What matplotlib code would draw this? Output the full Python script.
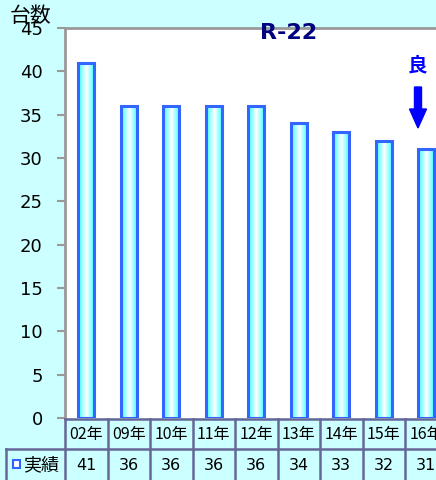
import matplotlib
matplotlib.use("Agg")
import matplotlib.pyplot as plt
import numpy as np
from matplotlib.colors import LinearSegmentedColormap
from matplotlib.patches import Rectangle, FancyArrow

plt.rcParams['font.family'] = ['Noto Sans CJK JP', 'DejaVu Sans']

categories = ["02年", "09年", "10年", "11年", "12年", "13年", "14年", "15年", "16年"]
values = [41, 36, 36, 36, 36, 34, 33, 32, 31]
series_name = "実績"
yticks = [0, 5, 10, 15, 20, 25, 30, 35, 40, 45]
title = "R-22"
ylabel = "台数"
note = "良"

W, H = 436, 480
bg = "#CCFFFF"
fig = plt.figure(figsize=(W / 100, H / 100), dpi=100, facecolor=bg)

x0, x1 = 65, 447.5
ytop, ybot = 28, 418
ax = fig.add_axes([x0 / W, (H - ybot) / H, (x1 - x0) / W, (ybot - ytop) / H])
ax.set_facecolor("white")
n = len(categories)

cmap = LinearSegmentedColormap.from_list("cw", ["#33FFFF", "#FFFFFF", "#33FFFF"])
grad = np.linspace(0, 1, 64).reshape(1, -1)
bw = 0.38
bars = ax.bar(range(n), values, width=bw, facecolor="none", edgecolor="#3366FF",
              linewidth=2.2, zorder=3)
for b in bars:
    ax.imshow(grad, cmap=cmap, aspect="auto", zorder=2,
              extent=[b.get_x(), b.get_x() + b.get_width(), 0, b.get_height()])
ax.set_xlim(-0.5, n - 0.5)
ax.set_ylim(0, 45)

for s in ["right", "bottom"]:
    ax.spines[s].set_visible(False)
for s in ["left", "top"]:
    ax.spines[s].set_color("#999999")
    ax.spines[s].set_linewidth(2)
ax.set_xticks([])
ax.set_yticks(yticks)
ax.tick_params(axis="y", colors="#999999", length=6, width=1.5, pad=10, labelsize=13,
               labelcolor="black")
for lab in ax.get_yticklabels():
    lab.set_fontfamily("DejaVu Sans")

# title and labels
fig.text(289 / W, 1 - 33 / H, title, color="#000080", fontsize=16, fontweight="bold",
         ha="center", va="center", fontfamily="DejaVu Sans")
fig.text(10 / W, 1 - 16 / H, ylabel, fontsize=15, ha="left", va="center")
fig.text(417 / W, 1 - 66 / H, note, color="#0000FF", fontsize=14, fontweight="bold",
         ha="center", va="center")
fig.patches.append(FancyArrow(
    418 / W, 1 - 87 / H, 0, -41 / H, width=7 / W, head_width=17 / W,
    head_length=19 / H, length_includes_head=True, color="#0000FF",
    transform=fig.transFigure, figure=fig))

# table
lc = "#666699"
cw = (x1 - x0) / n
r1t, r1b, r2b = 419, 449, 482
def fx(x): return x / W
def fy(y): return 1 - y / H
lines = []
lines.append(((x0, r1t), (x1, r1t)))
lines.append(((6, r1b), (x1, r1b)))
lines.append(((6, r1b), (6, r2b)))
for k in range(n + 1):
    xx = x0 + k * cw
    lines.append(((xx, r1t), (xx, r2b)))
for (a, b) in lines:
    fig.add_artist(plt.Line2D([fx(a[0]), fx(b[0])], [fy(a[1]), fy(b[1])], color=lc,
                              linewidth=1.8, transform=fig.transFigure))
for k, (c, v) in enumerate(zip(categories, values)):
    xc = x0 + (k + 0.5) * cw
    fig.text(fx(xc), fy((r1t + r1b) / 2 + 1), c, fontsize=11.5, ha="center", va="center")
    fig.text(fx(xc), fy((r1b + r2b) / 2), str(v), fontsize=11.5, ha="center", va="center",
             fontfamily="DejaVu Sans")
fig.add_artist(Rectangle((fx(13), fy(468)), 7 / W, 8 / H, facecolor="white",
                         edgecolor="#3366FF", linewidth=1.5, transform=fig.transFigure))
fig.text(fx(23), fy(465), series_name, fontsize=13, ha="left", va="center")

fig.savefig("out.png", dpi=100, facecolor=bg)
